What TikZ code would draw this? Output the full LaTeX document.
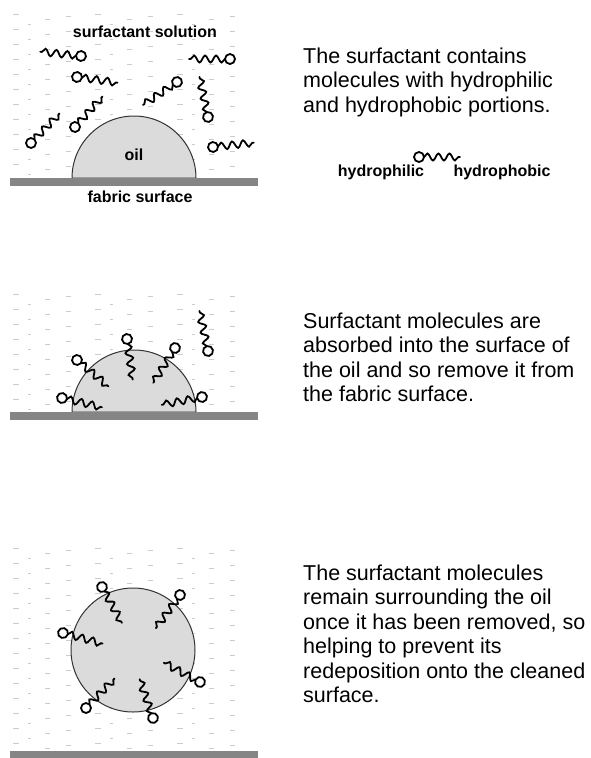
\documentclass[tikz,border=0pt]{standalone}
\usepackage{fontspec}
\setmainfont{Liberation Sans}
\usetikzlibrary{decorations.pathmorphing}

% faint dashes for the water, #1 = top, #2 = number of rows
\newcommand{\waterlines}[2]{%
  \foreach \cx in {0,1,2}
    \foreach \ry in {0,...,#2} {
      \draw[water] ({13+82*\cx},{#1+15*\ry}) -- ++(6,0);
      \draw[water] ({45+82*\cx},{#1+15*\ry+5}) -- ++(5,0);
      \draw[water] ({28+82*\cx},{#1+15*\ry+10}) -- ++(3,0);
      \draw[water] ({66+82*\cx},{#1+15*\ry+2}) -- ++(5,0);
    }%
}

\begin{document}
\begin{tikzpicture}[
	x = 1pt, y = -1pt,
	water/.style = {draw = black!20, line width = 0.9pt},
	oil/.style = {fill = black!14, draw = black!80, line width = 1pt},
	fabric/.style = {fill = black!48},
	tail/.style = {line width = 1.8pt, line cap = round, decorate,
		decoration = {snake, segment length = 11pt, amplitude = 3.5pt}},
	head/.style = {line width = 1.8pt, fill = white},
	molecule/.pic = {
		\draw[tail] (5,0) -- (41,0);
		\draw[head] (0,0) circle (5);
	},
	tag/.style = {font = \bfseries\fontsize{16}{18}\selectfont, inner sep = 0pt},
	caption/.style = {anchor = base west, align = left, inner sep = 0pt,
		font = \fontsize{21.5}{24.5}\selectfont}
	]
	\useasboundingbox (0,0) rectangle (590,758);

	% oil on the fabric
	\waterlines{14}{10}
	\draw[oil] (72,178) arc (180:360:62) -- cycle;
	\fill[fabric] (10,178) rectangle (258,186);
	\pic[rotate = 174] at (81,56) {molecule};
	\pic[rotate = -8] at (77,77) {molecule};
	\pic[rotate = 46] at (31,143) {molecule};
	\pic[rotate = 48] at (75,127) {molecule};
	\pic[rotate = 214] at (177,82) {molecule};
	\pic[rotate = 180] at (230,59) {molecule};
	\pic[rotate = 102] at (208,117) {molecule};
	\pic[rotate = 6] at (213,147) {molecule};
	\node[tag] (solution) at (145,32) {surfactant solution};
	\node[tag] (oilA) at (134,155) {oil};
	\node[tag] (fabricA) at (140,197) {fabric surface};
	\node[caption] (textA) at (303,112) {The surfactant contains\\molecules with hydrophilic\\and hydrophobic portions.};

	\pic at (419,157) {molecule};
	\node[tag] (philic) at (381,172) {hydrophilic};
	\node[tag] (phobic) at (502,172) {hydrophobic};

	% molecules taken up by the oil
	\waterlines{294}{7}
	\draw[oil] (72,412) arc (180:360:62) -- cycle;
	\fill[fabric] (10,412) rectangle (258,420);
	\pic[rotate = -40] at (77,360) {molecule};
	\pic[rotate = -82] at (127,339) {molecule};
	\pic[rotate = 238] at (175,348) {molecule};
	\pic[rotate = -13] at (62,398) {molecule};
	\pic[rotate = 191] at (202,397) {molecule};
	\pic[rotate = 102] at (208,351) {molecule};
	\node[caption] (textB) at (303,401.5) {Surfactant molecules are\\absorbed into the surface of\\the oil and so remove it from\\the fabric surface.};

	% oil lifted off
	\waterlines{548}{13}
	\draw[oil] (133,650) circle (62);
	\fill[fabric] (10,751) rectangle (258,758);
	\pic[rotate = -61] at (102,587) {molecule};
	\pic[rotate = 234] at (180,595) {molecule};
	\pic[rotate = -15] at (63,633) {molecule};
	\pic[rotate = 152] at (200,682) {molecule};
	\pic[rotate = 46] at (86,708) {molecule};
	\pic[rotate = 109] at (153,718) {molecule};
	\node[caption] (textC) at (303,702.5) {The surfactant molecules\\remain surrounding the oil\\once it has been removed, so\\helping to prevent its\\redeposition onto the cleaned\\surface.};
\end{tikzpicture}
\end{document}
